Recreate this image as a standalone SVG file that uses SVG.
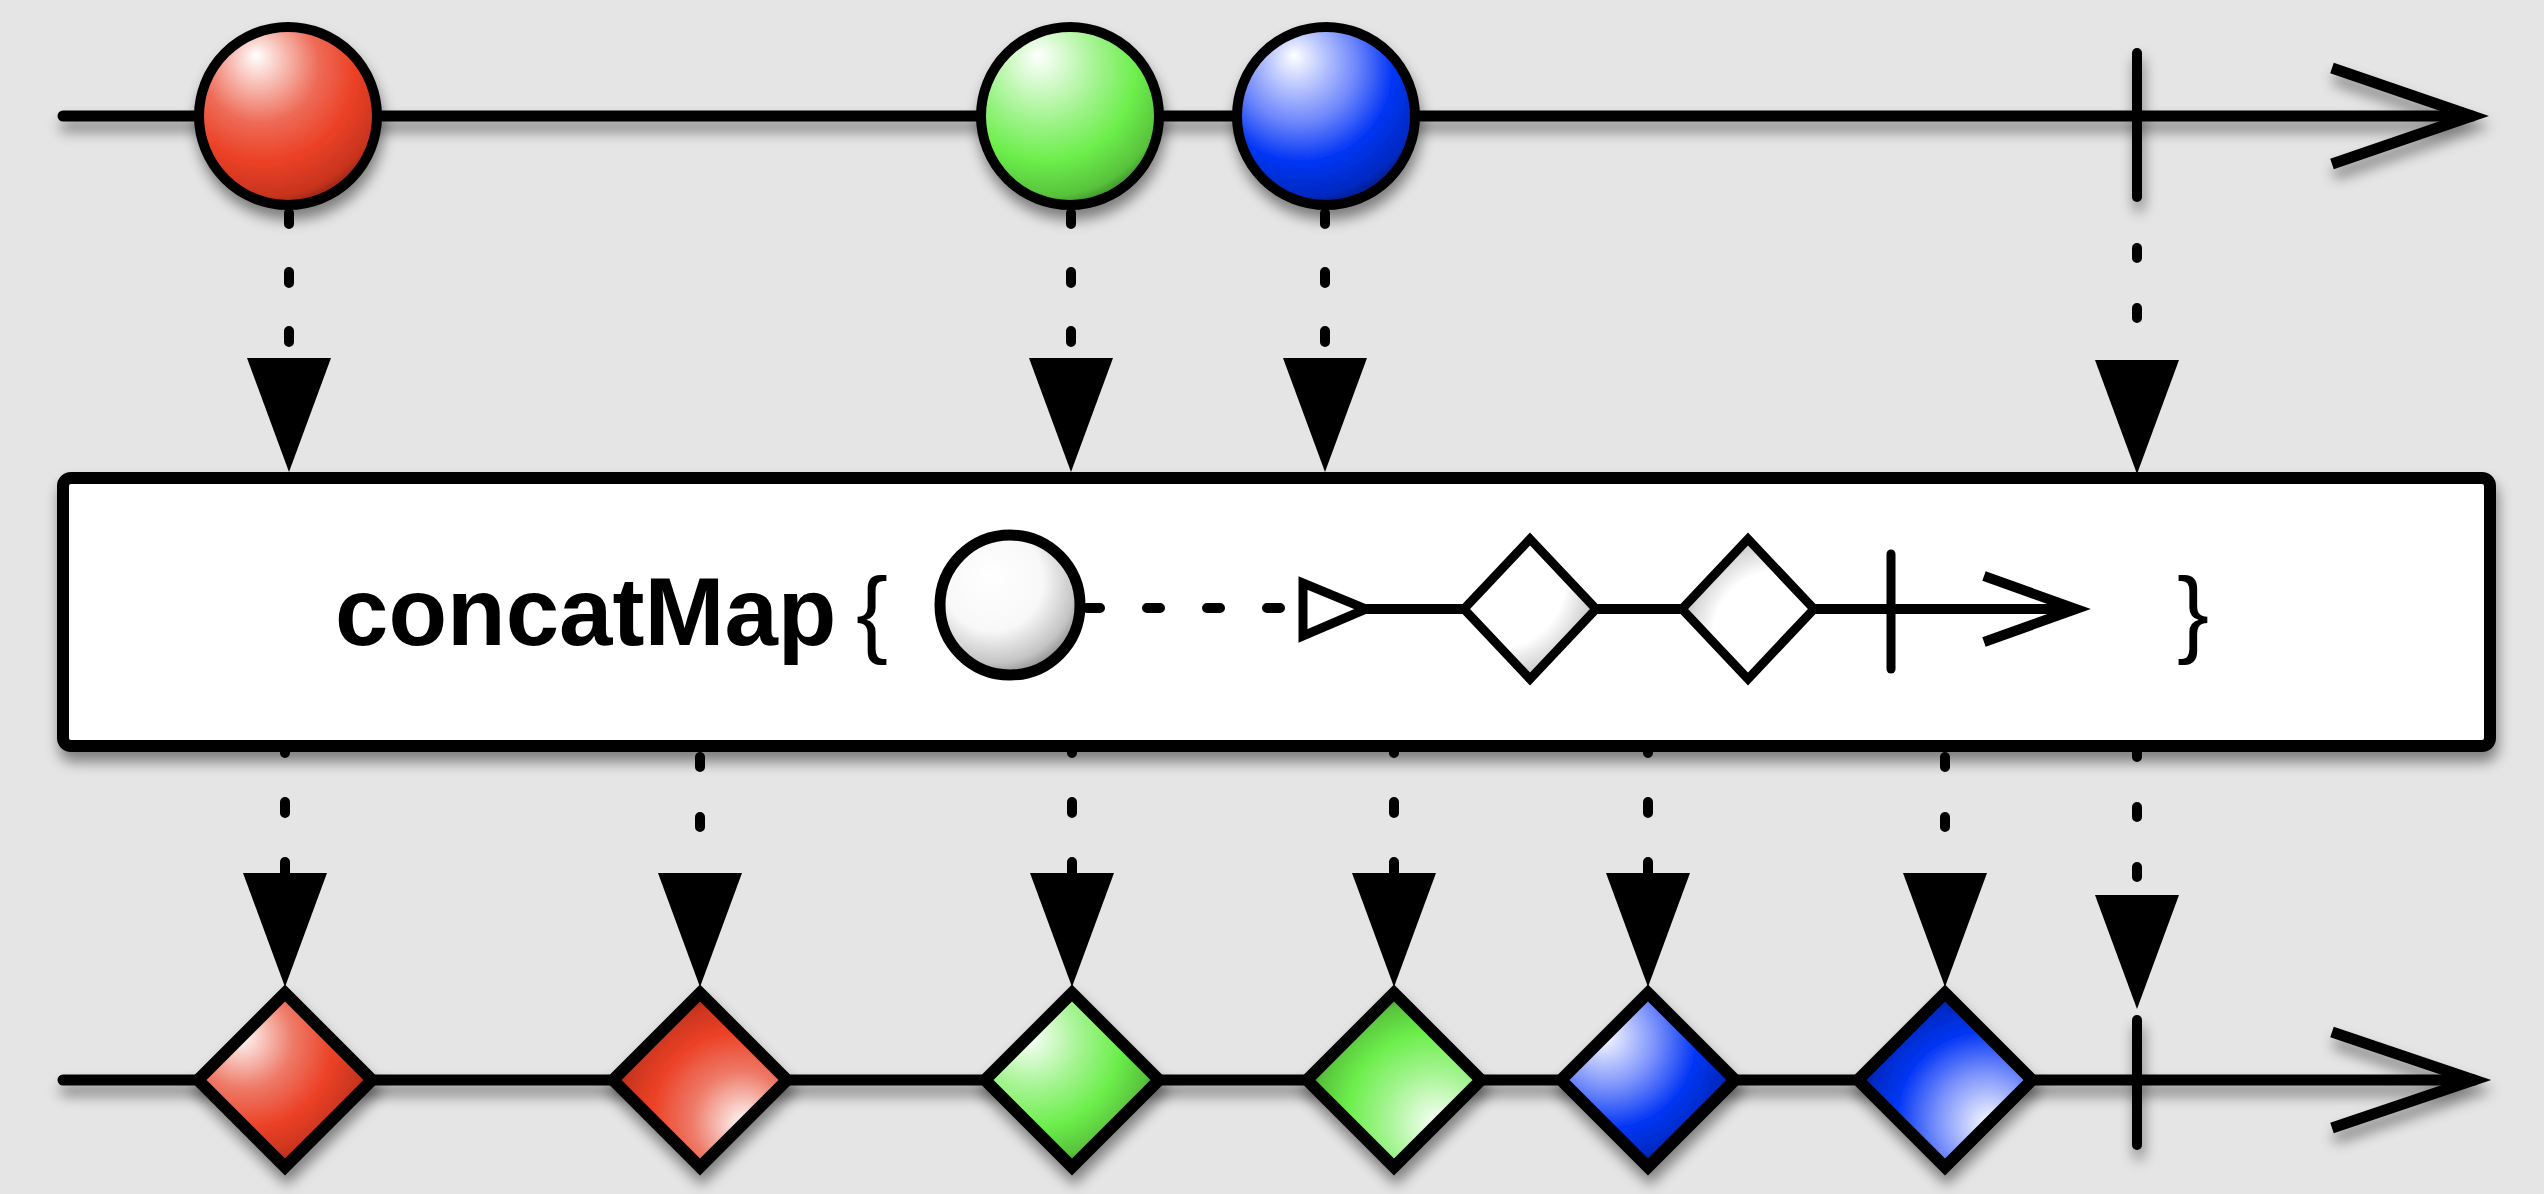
<svg xmlns="http://www.w3.org/2000/svg" width="2544" height="1194" viewBox="0 0 2544 1194">
<defs>
<style>
.tl{fill:none;stroke:#000;stroke-width:11;stroke-linecap:round}
.chev{fill:none;stroke:#000;stroke-width:11;stroke-linecap:butt;stroke-linejoin:miter}
.bar{stroke:#000;stroke-width:10;stroke-linecap:round}
.node{stroke:#000;stroke-width:10}
.dia{stroke:#000;stroke-width:12;stroke-linejoin:miter}
.dash{fill:none;stroke:#000;stroke-width:10;stroke-linecap:round}
.in{stroke:#000;stroke-width:9;stroke-linejoin:miter}
.lbl{font-family:"Liberation Sans",Arial,Helvetica,sans-serif;font-size:96px;fill:#000}
</style>
<filter id="sh" filterUnits="userSpaceOnUse" x="0" y="0" width="2544" height="1194">
<feDropShadow dx="2" dy="10" stdDeviation="7" flood-color="#000" flood-opacity="0.45"/>
</filter>
<marker id="ah" viewBox="0 -42 114 84" refX="0" refY="0" markerWidth="114" markerHeight="84" markerUnits="userSpaceOnUse" orient="auto">
<path d="M0,-42 L114,0 L0,42 Z" fill="#000"/>
</marker>
<radialGradient id="gRed" cx="0.38" cy="0.28" r="0.78" fx="0.32" fy="0.16">
<stop offset="0" stop-color="#ffffff"/><stop offset="0.42" stop-color="#ee6b57"/><stop offset="0.66" stop-color="#ec4126"/><stop offset="0.88" stop-color="#c8341e"/><stop offset="1" stop-color="#7a1a0c"/>
</radialGradient>
<radialGradient id="gGreen" cx="0.38" cy="0.28" r="0.78" fx="0.32" fy="0.16">
<stop offset="0" stop-color="#ffffff"/><stop offset="0.42" stop-color="#9ef38a"/><stop offset="0.66" stop-color="#6cee4b"/><stop offset="0.88" stop-color="#58c23c"/><stop offset="1" stop-color="#2f6e20"/>
</radialGradient>
<radialGradient id="gBlue" cx="0.38" cy="0.28" r="0.78" fx="0.32" fy="0.16">
<stop offset="0" stop-color="#ffffff"/><stop offset="0.42" stop-color="#6d86fb"/><stop offset="0.66" stop-color="#0336f5"/><stop offset="0.88" stop-color="#0229c0"/><stop offset="1" stop-color="#00135e"/>
</radialGradient>
<radialGradient id="dRedA" cx="0.3" cy="0.3" r="0.75" fx="0.24" fy="0.24">
<stop offset="0" stop-color="#ffffff"/><stop offset="0.38" stop-color="#ee7a68"/><stop offset="0.66" stop-color="#ec4126"/><stop offset="0.88" stop-color="#c8341e"/><stop offset="1" stop-color="#7a1a0c"/>
</radialGradient>
<radialGradient id="dRedB" cx="0.7" cy="0.7" r="0.75" fx="0.76" fy="0.76">
<stop offset="0" stop-color="#ffffff"/><stop offset="0.38" stop-color="#ee7a68"/><stop offset="0.66" stop-color="#ec4126"/><stop offset="0.88" stop-color="#c8341e"/><stop offset="1" stop-color="#7a1a0c"/>
</radialGradient>
<radialGradient id="dGreenA" cx="0.3" cy="0.3" r="0.75" fx="0.24" fy="0.24">
<stop offset="0" stop-color="#ffffff"/><stop offset="0.38" stop-color="#a4f491"/><stop offset="0.66" stop-color="#6cee4b"/><stop offset="0.88" stop-color="#58c23c"/><stop offset="1" stop-color="#2f6e20"/>
</radialGradient>
<radialGradient id="dGreenB" cx="0.7" cy="0.7" r="0.75" fx="0.76" fy="0.76">
<stop offset="0" stop-color="#ffffff"/><stop offset="0.38" stop-color="#a4f491"/><stop offset="0.66" stop-color="#6cee4b"/><stop offset="0.88" stop-color="#58c23c"/><stop offset="1" stop-color="#2f6e20"/>
</radialGradient>
<radialGradient id="dBlueA" cx="0.3" cy="0.3" r="0.75" fx="0.24" fy="0.24">
<stop offset="0" stop-color="#ffffff"/><stop offset="0.38" stop-color="#7990fb"/><stop offset="0.66" stop-color="#0336f5"/><stop offset="0.88" stop-color="#0229c0"/><stop offset="1" stop-color="#00135e"/>
</radialGradient>
<radialGradient id="dBlueB" cx="0.7" cy="0.7" r="0.75" fx="0.76" fy="0.76">
<stop offset="0" stop-color="#ffffff"/><stop offset="0.38" stop-color="#7990fb"/><stop offset="0.66" stop-color="#0336f5"/><stop offset="0.88" stop-color="#0229c0"/><stop offset="1" stop-color="#00135e"/>
</radialGradient>
<radialGradient id="gGray" cx="0.4" cy="0.35" r="0.72" fx="0.35" fy="0.3">
<stop offset="0" stop-color="#ffffff"/><stop offset="0.5" stop-color="#f8f8f8"/><stop offset="0.8" stop-color="#c4c4c4"/><stop offset="1" stop-color="#6e6e6e"/>
</radialGradient>
<radialGradient id="gGrayA" cx="0.3" cy="0.3" r="0.75" fx="0.25" fy="0.25">
<stop offset="0" stop-color="#ffffff"/><stop offset="0.65" stop-color="#ffffff"/><stop offset="1" stop-color="#bdbdbd"/>
</radialGradient>
<radialGradient id="gGrayB" cx="0.7" cy="0.7" r="0.75" fx="0.75" fy="0.75">
<stop offset="0" stop-color="#ffffff"/><stop offset="0.65" stop-color="#ffffff"/><stop offset="1" stop-color="#bdbdbd"/>
</radialGradient>
<path id="dia" d="M0,-87 L87,0 L0,87 L-87,0 Z"/>
</defs>

<rect x="0" y="0" width="2544" height="1194" fill="#e5e5e5"/>

<g id="connectors">
<line class="dash" x1="289" y1="213" x2="289" y2="358" stroke-dasharray="11 48" marker-end="url(#ah)"/>
<line class="dash" x1="1071" y1="213" x2="1071" y2="358" stroke-dasharray="11 48" marker-end="url(#ah)"/>
<line class="dash" x1="1325" y1="213" x2="1325" y2="358" stroke-dasharray="11 48" marker-end="url(#ah)"/>
<line class="dash" x1="2137" y1="248" x2="2137" y2="360" stroke-dasharray="10 50" marker-end="url(#ah)"/>
<line class="dash" x1="285" y1="742" x2="285" y2="873" stroke-dasharray="11 49" marker-end="url(#ah)"/>
<line class="dash" x1="700" y1="757" x2="700" y2="873" stroke-dasharray="10 50" marker-end="url(#ah)"/>
<line class="dash" x1="1072" y1="742" x2="1072" y2="873" stroke-dasharray="11 49" marker-end="url(#ah)"/>
<line class="dash" x1="1394" y1="742" x2="1394" y2="873" stroke-dasharray="11 49" marker-end="url(#ah)"/>
<line class="dash" x1="1648" y1="742" x2="1648" y2="873" stroke-dasharray="11 49" marker-end="url(#ah)"/>
<line class="dash" x1="1945" y1="757" x2="1945" y2="873" stroke-dasharray="10 50" marker-end="url(#ah)"/>
<line class="dash" x1="2137" y1="747" x2="2137" y2="895" stroke-dasharray="10 50" marker-end="url(#ah)"/>
</g>

<g id="source-timeline" filter="url(#sh)">
<line class="tl" x1="63" y1="116" x2="2472" y2="116"/>
<polyline class="chev" points="2332,68 2472,116 2332,164"/>
</g>
<g id="src-complete" filter="url(#sh)"><line class="bar" x1="2137" y1="53" x2="2137" y2="197"/></g>
<g id="src-red" filter="url(#sh)"><circle class="node" cx="288" cy="116" r="89" fill="url(#gRed)"/></g>
<g id="src-green" filter="url(#sh)"><circle class="node" cx="1070" cy="116" r="89" fill="url(#gGreen)"/></g>
<g id="src-blue" filter="url(#sh)"><circle class="node" cx="1326" cy="116" r="89" fill="url(#gBlue)"/></g>

<g id="operator">
<rect x="63" y="478" width="2427" height="268" rx="8" fill="#fff" stroke="#000" stroke-width="12" filter="url(#sh)"/>
<text class="lbl" x="335" y="645" font-weight="bold">concatMap</text>
<text class="lbl" x="856" y="645">{</text>
<text class="lbl" x="2177" y="645">}</text>
<g id="inner">
<line class="dash" x1="1087" y1="608" x2="1290" y2="608" stroke-dasharray="13 47"/>
<circle cx="1010" cy="605" r="70" fill="url(#gGray)" stroke="#000" stroke-width="11"/>
<line x1="1366" y1="609" x2="2076" y2="609" stroke="#000" stroke-width="10"/>
<polygon class="in" points="1303,583 1303,636 1366,609" fill="#fff"/>
<path class="in" d="M1530,539 L1596,609 L1530,679 L1464,609 Z" fill="url(#gGrayA)"/>
<path class="in" d="M1748,539 L1814,609 L1748,679 L1682,609 Z" fill="url(#gGrayB)"/>
<line x1="1891" y1="554" x2="1891" y2="669" stroke="#000" stroke-width="9" stroke-linecap="round"/>
<polyline points="1984,576 2076,609 1984,642" fill="none" stroke="#000" stroke-width="10" stroke-linejoin="miter"/>
</g>
</g>

<g id="result-timeline" filter="url(#sh)">
<line class="tl" x1="63" y1="1080" x2="2474" y2="1080"/>
<polyline class="chev" points="2332,1032 2474,1080 2332,1128"/>
</g>
<g id="res-complete" filter="url(#sh)"><line class="bar" x1="2137" y1="1020" x2="2137" y2="1145"/></g>
<g id="res-red1" filter="url(#sh)"><use href="#dia" x="285" y="1080" class="dia" fill="url(#dRedA)"/></g>
<g id="res-red2" filter="url(#sh)"><use href="#dia" x="700" y="1080" class="dia" fill="url(#dRedB)"/></g>
<g id="res-green1" filter="url(#sh)"><use href="#dia" x="1072" y="1080" class="dia" fill="url(#dGreenA)"/></g>
<g id="res-green2" filter="url(#sh)"><use href="#dia" x="1394" y="1080" class="dia" fill="url(#dGreenB)"/></g>
<g id="res-blue1" filter="url(#sh)"><use href="#dia" x="1648" y="1080" class="dia" fill="url(#dBlueA)"/></g>
<g id="res-blue2" filter="url(#sh)"><use href="#dia" x="1945" y="1080" class="dia" fill="url(#dBlueB)"/></g>
</svg>
